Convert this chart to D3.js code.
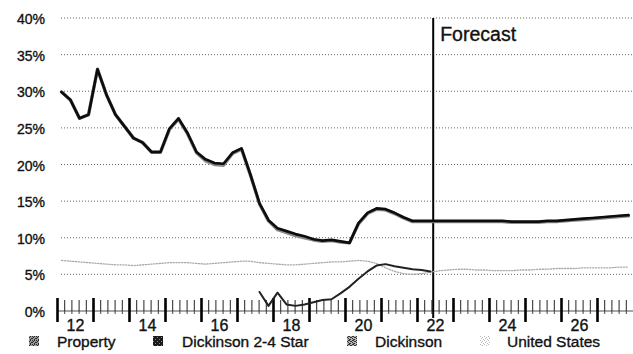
<!DOCTYPE html>
<html>
<head>
<meta charset="utf-8">
<script src="https://cdn.jsdelivr.net/npm/d3@7"></script>
<style>
  html, body { margin: 0; padding: 0; background: #fff; }
  svg { display: block; font-family: "Liberation Sans", Arial, Helvetica, sans-serif; }
  svg text { stroke: #111; stroke-width: 0.35px; }
</style>
</head>
<body>
<svg id="chart" width="633" height="354"></svg>
<script>
// Vacancy rate by quarter, 2012 Q1 – 2027 Q4 (forecast from mid-2022)
const years = [2012, 2013, 2014, 2015, 2016, 2017, 2018, 2019,
               2020, 2021, 2022, 2023, 2024, 2025, 2026, 2027];
const quarters = years.flatMap(y => [1, 2, 3, 4].map(q => ({ year: y, q })));

const seriesNames = ["Property", "Dickinson 2-4 Star", "Dickinson", "United States"];

const star24 = [
  29.9, 28.8, 26.3, 26.8,  33.0, 29.5, 26.8, 25.2,
  23.6, 23.0, 21.7, 21.7,  24.9, 26.3, 24.3, 21.7,
  20.7, 20.2, 20.1, 21.6,  22.2, 18.6, 14.7, 12.4,
  11.3, 10.9, 10.5, 10.2,   9.8,  9.6,  9.7,  9.5,
   9.3, 12.0, 13.4, 14.0,  13.9, 13.4, 12.8, 12.3,
  12.3, 12.3, 12.3, 12.3,  12.3, 12.3, 12.3, 12.3,
  12.3, 12.3, 12.2, 12.2,  12.2, 12.2, 12.3, 12.3,
  12.4, 12.5, 12.6, 12.7,  12.8, 12.9, 13.0, 13.1
];

const dickinson = [
  29.9, 28.8, 26.3, 26.8,  33.0, 29.5, 26.8, 25.2,
  23.6, 23.0, 21.7, 21.7,  24.8, 26.2, 24.2, 21.6,
  20.5, 20.0, 19.9, 21.5,  22.1, 18.5, 14.6, 12.3,
  11.1, 10.7, 10.3, 10.0,   9.7,  9.5,  9.6,  9.4,
   9.3, 11.9, 13.3, 13.9,  13.8, 13.3, 12.7, 12.2,
  12.2, 12.2, 12.2, 12.2,  12.2, 12.2, 12.2, 12.2,
  12.2, 12.2, 12.1, 12.1,  12.1, 12.1, 12.2, 12.2,
  12.3, 12.4, 12.5, 12.6,  12.7, 12.8, 12.9, 13.0
];

const property = [
  null, null, null, null,  null, null, null, null,
  null, null, null, null,  null, null, null, null,
  null, null, null, null,  null, null,  2.6,  0.7,
   2.5,  0.9,  0.7,  0.9,   1.2,  1.5,  1.6,  2.4,
   3.3,  4.4,  5.4,  6.2,   6.4,  6.1,  5.9,  5.7,
   5.6,  5.4, null, null,  null, null, null, null,
  null, null, null, null,  null, null, null, null,
  null, null, null, null,  null, null, null, null
];

const unitedStates = [
  6.9, 6.8, 6.7, 6.6,  6.5, 6.4, 6.3, 6.3,
  6.2, 6.3, 6.4, 6.5,  6.6, 6.6, 6.6, 6.5,
  6.4, 6.5, 6.6, 6.7,  6.8, 6.8, 6.6, 6.5,
  6.4, 6.3, 6.3, 6.4,  6.5, 6.6, 6.7, 6.7,
  6.8, 6.9, 6.8, 6.5,  5.9, 5.4, 5.1, 5.0,
  5.1, 5.3, 5.5, 5.6,  5.7, 5.7, 5.6, 5.6,
  5.5, 5.5, 5.5, 5.6,  5.6, 5.7, 5.7, 5.8,
  5.8, 5.8, 5.9, 5.9,  5.9, 5.9, 6.0, 6.0
];

const yTicks = [0, 5, 10, 15, 20, 25, 30, 35, 40];
const xLabelYears = [2012, 2014, 2016, 2018, 2020, 2022, 2024, 2026];
const forecastStart = 2022.45;
const forecastLabel = "Forecast";

// ---------- layout ----------
const svg = d3.select("#chart");
const x = d3.scaleLinear().domain([2012, 2028]).range([57, 633]);
const y = d3.scaleLinear().domain([0, 40]).range([311, 18]);
const tOf = d => d.year + (d.q - 0.5) / 4;

// patterns used by the legend swatches
const defs = svg.append("defs");
function stipple(id, bg, fg, cells) {
  const p = defs.append("pattern").attr("id", id)
    .attr("patternUnits", "userSpaceOnUse").attr("width", 4).attr("height", 4);
  p.append("rect").attr("width", 4).attr("height", 4).attr("fill", bg);
  cells.forEach(([cx, cy]) => p.append("rect").attr("x", cx).attr("y", cy)
    .attr("width", 1).attr("height", 1).attr("fill", fg));
}
stipple("patProperty", "#9a9a9a", "#2a2a2a", [[0,0],[2,0],[1,1],[3,2],[0,2],[2,3]]);
stipple("patStar", "#1a1a1a", "#8a8a8a", [[1,1],[3,3]]);
stipple("patDick", "#b5b5b5", "#333", [[0,0],[1,0],[2,1],[3,1],[0,2],[1,3],[2,3]]);
stipple("patUS", "#ffffff", "#b8b8b8", [[0,0],[2,1],[1,2],[3,3]]);

// ---------- grid ----------
svg.append("g").selectAll("line")
  .data(yTicks.filter(v => v > 0))
  .join("line")
  .attr("x1", 61).attr("x2", 633)
  .attr("y1", d => y(d)).attr("y2", d => y(d))
  .attr("stroke", "#555").attr("stroke-width", 0.9)
  .attr("stroke-dasharray", "1,2");

// ---------- y axis labels ----------
const yAxis = svg.append("g").attr("transform", "translate(57,0)")
  .call(d3.axisLeft(y).tickValues(yTicks).tickSize(0).tickPadding(12)
    .tickFormat(d => d + "%"));
yAxis.select(".domain").remove();
yAxis.selectAll("text").attr("font-size", 14).attr("fill", "#111")
  .attr("font-family", "Liberation Sans, Arial, sans-serif")
  .attr("dy", "0.4em");

// ---------- x axis (ruler style) ----------
const axisY = 311;
const minorVals = years.flatMap(yr => [0.2, 0.4, 0.6, 0.8].map(f => yr + f));
const gMinor = svg.append("g").attr("transform", `translate(0,${axisY})`)
  .call(d3.axisBottom(x).tickValues(minorVals).tickSize(-11).tickFormat(""));
gMinor.select(".domain").attr("stroke", "#8a8a8a").attr("stroke-width", 1.6)
  .attr("d", `M${x(2012)},0H${x(2028)}`);
gMinor.selectAll(".tick line").attr("stroke", "#222").attr("stroke-width", 1);
// small stubs below the minor ticks
gMinor.selectAll(".tick").append("line")
  .attr("y1", 0).attr("y2", 3).attr("stroke", "#444").attr("stroke-width", 1);

const gMajor = svg.append("g").attr("transform", `translate(0,${axisY})`)
  .call(d3.axisBottom(x).tickValues(years).tickFormat(""));
gMajor.select(".domain").remove();
gMajor.selectAll(".tick line")
  .attr("y1", -13).attr("y2", 11)
  .attr("stroke", "#000").attr("stroke-width", 2.6);

const gLabels = svg.append("g").attr("transform", `translate(0,${axisY})`)
  .call(d3.axisBottom(x).tickValues(xLabelYears.map(v => v + 0.5))
    .tickSize(0).tickPadding(9).tickFormat(d => String(Math.floor(d) % 100)));
gLabels.select(".domain").remove();
gLabels.selectAll("text").attr("font-size", 16).attr("fill", "#111")
  .attr("font-family", "Liberation Sans, Arial, sans-serif");

// ---------- forecast divider ----------
svg.append("line")
  .attr("x1", x(forecastStart)).attr("x2", x(forecastStart))
  .attr("y1", y(40)).attr("y2", 318)
  .attr("stroke", "#000").attr("stroke-width", 2);
svg.append("text")
  .attr("x", x(forecastStart) + 7).attr("y", 41)
  .attr("font-size", 19.5).attr("fill", "#111")
  .text(forecastLabel);

// ---------- lines ----------
function drawLine(values, style) {
  const pts = quarters.map((d, i) => ({ t: tOf(d), v: values[i] }));
  const line = d3.line()
    .defined(d => d.v !== null)
    .x(d => x(d.t)).y(d => y(d.v))
    .curve(d3.curveLinear);
  svg.append("path").datum(pts)
    .attr("fill", "none")
    .attr("stroke", style.color)
    .attr("stroke-width", style.width)
    .attr("stroke-dasharray", style.dash || null)
    .attr("stroke-linejoin", "round")
    .attr("stroke-linecap", "round")
    .attr("d", line);
}

drawLine(unitedStates, { color: "#a8a8a8", width: 1.3, dash: "1.2,1.6" });
drawLine(dickinson, { color: "#8c8c8c", width: 3.4 });
drawLine(star24, { color: "#0d0d0d", width: 2.7 });
drawLine(property, { color: "#222", width: 2 });

// ---------- legend ----------
const legendItems = [
  { name: seriesNames[0], fill: "url(#patProperty)", sx: 29, tx: 57 },
  { name: seriesNames[1], fill: "url(#patStar)", sx: 153, tx: 182 },
  { name: seriesNames[2], fill: "url(#patDick)", sx: 347, tx: 375 },
  { name: seriesNames[3], fill: "url(#patUS)", sx: 480, tx: 507 }
];
const lg = svg.append("g");
lg.selectAll("rect").data(legendItems).join("rect")
  .attr("x", d => d.sx).attr("y", 336).attr("width", 10).attr("height", 10)
  .attr("fill", d => d.fill);
lg.selectAll("text").data(legendItems).join("text")
  .attr("x", d => d.tx).attr("y", 347)
  .attr("font-size", 15.5).attr("fill", "#111")
  .text(d => d.name);
</script>
</body>
</html>
